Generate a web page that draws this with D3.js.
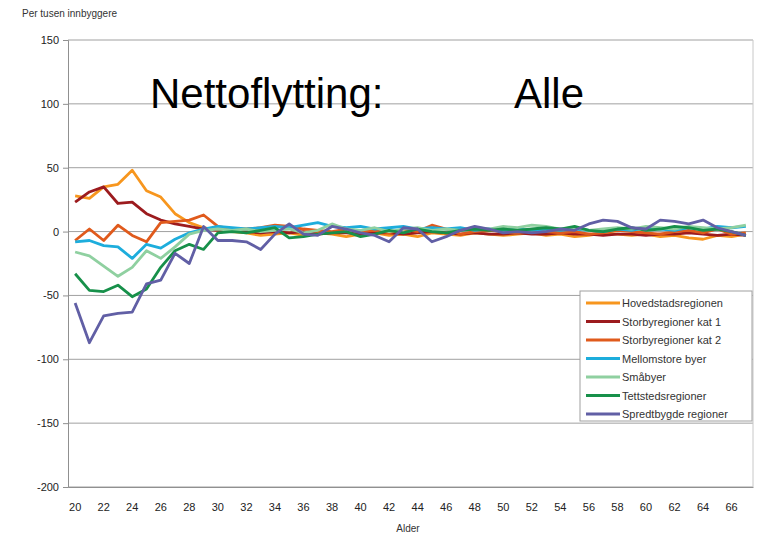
<!DOCTYPE html>
<html><head><meta charset="utf-8">
<script src="https://cdn.jsdelivr.net/npm/d3@7"></script>
<style>body{margin:0;background:#fff;}svg{display:block;font-family:"Liberation Sans",Arial,sans-serif;}</style>
</head><body>
<script>
const ages = d3.range(20, 68);
const seriesNames = ["Hovedstadsregionen","Storbyregioner kat 1","Storbyregioner kat 2","Mellomstore byer","Småbyer","Tettstedsregioner","Spredtbygde regioner"];
const seriesColors = ["#F7961E","#9C1B1E","#E05A1C","#1DADDC","#8FD0A0","#17904A","#615FA5"];
const hoved =   [28,26,35,37,48,32,27,14,7,3,1,0,-1,-3,-2,-1,-3,-1,-2,-4,-2,-1,-3,-2,-4,-1,-2,-3,-1,-2,-3,-2,-1,-3,-2,-4,-3,-1,-2,-3,-2,-4,-3,-5,-6,-3,-4,-2];
const storby1 = [23,31,35,22,23,14,9,6,4,2,1,0,0,-1,0,-1,0,-2,-1,-1,-2,-1,-1,-2,-1,0,-1,-2,-1,-2,-2,-1,-2,-2,-1,-2,-2,-3,-2,-2,-3,-2,-2,-1,-2,-3,-2,-3];
const storby2 = [-7,2,-7,5,-3,-8,7,8,9,13,4,2,2,3,5,4,2,1,0,2,0,1,-1,2,0,5,2,-2,0,1,0,-1,1,0,-1,0,-2,-1,1,0,-1,-2,0,1,-1,2,-2,-1];
const mellom =  [-8,-7,-11,-12,-21,-10,-13,-6,-1,2,4,3,2,3,4,3,5,7,4,3,4,2,3,4,2,3,2,3,1,2,1,2,1,2,1,2,1,0,2,1,3,2,1,3,2,4,3,4];
const smaby =   [-16,-19,-27,-35,-28,-15,-21,-12,-2,1,2,1,2,0,1,2,-1,1,6,2,1,3,0,2,3,1,2,1,3,2,4,3,5,4,2,3,1,2,3,2,4,3,2,4,3,2,3,5];
const tettsted =[-33,-46,-47,-42,-51,-45,-28,-15,-10,-14,-1,0,-1,1,3,-5,-4,-2,-1,0,-4,-2,1,-1,2,0,-1,1,2,1,2,1,2,3,2,4,1,0,2,3,1,2,4,3,1,2,0,-3];
const spredt =  [-56,-87,-66,-64,-63,-41,-38,-17,-25,4,-7,-7,-8,-14,-2,6,-2,-3,4,2,-1,-3,-8,3,2,-8,-4,1,4,2,-1,0,-1,0,2,1,6,9,8,3,2,9,8,6,9,3,0,-3];
const seriesValues = [hoved, storby1, storby2, mellom, smaby, tettsted, spredt];
const yTicks = [150,100,50,0,-50,-100,-150,-200];
const xTickLabels = d3.range(20, 67, 2);

const W = 760, H = 535;
const L = 68, R = 753, T = 40, B = 487;
const svg = d3.select("body").append("svg").attr("width", W).attr("height", H);

const x = d3.scaleBand().domain(ages).range([L, R]);
const y = d3.scaleLinear().domain([-200, 150]).range([B, T]);

// gridlines
svg.append("g").selectAll("line").data(yTicks).join("line")
  .attr("x1", L).attr("x2", R).attr("y1", d => y(d)).attr("y2", d => y(d))
  .attr("stroke", "#a0a0a0").attr("stroke-width", 1);
// right border
svg.append("line").attr("x1", R).attr("x2", R).attr("y1", T).attr("y2", B).attr("stroke", "#c8c8c8");

// y axis
const yAxis = svg.append("g").attr("transform", `translate(${L},0)`)
  .call(d3.axisLeft(y).tickValues(yTicks).tickSize(5).tickPadding(4).tickFormat(d => String(d)));
yAxis.select(".domain").attr("stroke", "#909090");
yAxis.selectAll(".tick line").attr("stroke", "#909090");
yAxis.selectAll("text").attr("font-size", 11).attr("fill", "#222").attr("font-family", "Liberation Sans, Arial, sans-serif");

// x axis
const xAxis = svg.append("g").attr("transform", `translate(0,${B})`)
  .call(d3.axisBottom(x).tickValues(xTickLabels).tickSize(0).tickPadding(16));
xAxis.select(".domain").attr("stroke", "#909090");
xAxis.selectAll("text").attr("font-size", 11).attr("fill", "#222").attr("font-family", "Liberation Sans, Arial, sans-serif");

// lines
const line = d3.line().x((d, i) => x(ages[i]) + x.bandwidth() / 2).y(d => y(d));
svg.append("g").selectAll("path").data(seriesValues).join("path")
  .attr("d", d => line(d)).attr("fill", "none")
  .attr("stroke", (d, i) => seriesColors[i]).attr("stroke-width", 2.8)
  .attr("stroke-linejoin", "round");

// titles
svg.append("text").attr("x", 22).attr("y", 17).attr("font-size", 10).attr("fill", "#333").text("Per tusen innbyggere");
svg.append("text").attr("x", 408).attr("y", 532).attr("text-anchor", "middle").attr("font-size", 10).attr("fill", "#333").text("Alder");
svg.append("text").attr("x", 150).attr("y", 108).attr("font-size", 42).attr("fill", "#000").text("Nettoflytting:");
svg.append("text").attr("x", 514).attr("y", 108).attr("font-size", 42).attr("fill", "#000").text("Alle");

// legend
const lg = svg.append("g").attr("transform", "translate(580,291)");
lg.append("rect").attr("width", 172).attr("height", 130).attr("fill", "#fff").attr("stroke", "#a0a0a0");
const items = lg.selectAll("g").data(seriesNames).join("g")
  .attr("transform", (d, i) => `translate(0,${12 + i * 18.5})`);
items.append("line").attr("x1", 6).attr("x2", 40).attr("stroke", (d, i) => seriesColors[i]).attr("stroke-width", 3);
items.append("text").attr("x", 42).attr("y", 4).attr("font-size", 11).attr("fill", "#333").text(d => d);
</script>
</body></html>
